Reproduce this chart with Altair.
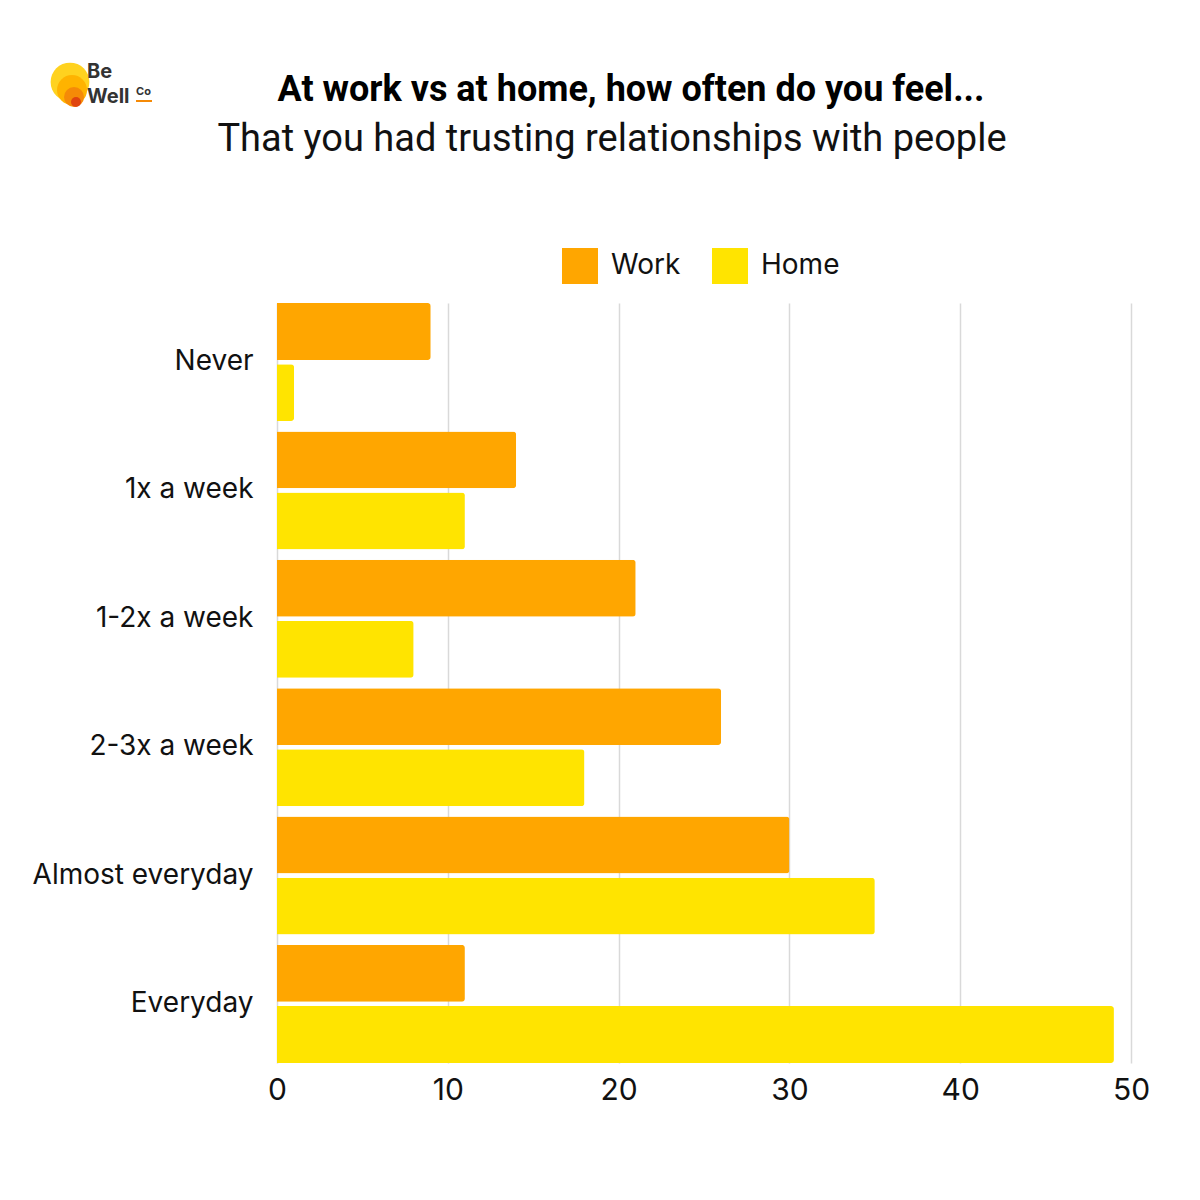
import altair as alt
import pandas as pd

categories = ["Never", "1x a week", "1-2x a week", "2-3x a week", "Almost everyday", "Everyday"]
work = [9, 14, 21, 26, 30, 11]
home = [1, 11, 8, 18, 35, 49]
series = ["Work", "Home"]
colors = ["#FFA600", "#FFE400"]
x_ticks = [0, 10, 20, 30, 40, 50]

rows = []
for c, w, h in zip(categories, work, home):
    rows.append({"category": c, "series": "Work", "value": w})
    rows.append({"category": c, "series": "Home", "value": h})
df = pd.DataFrame(rows)

W, H = 854, 760
LEFT, TOP = 277, 303

bars = alt.Chart(df).mark_bar(cornerRadiusEnd=3).encode(
    y=alt.Y("category:N", sort=categories,
            scale=alt.Scale(paddingInner=0.08, paddingOuter=0),
            axis=alt.Axis(title=None, ticks=False, domain=False, labelFontSize=28,
                          labelFont="Inter", labelColor="#111111", labelPadding=24,
                          labelLimit=300)),
    yOffset=alt.YOffset("series:N", sort=series,
                        scale=alt.Scale(paddingInner=0.068, paddingOuter=0)),
    x=alt.X("value:Q", scale=alt.Scale(domain=[0, 50], nice=False),
            axis=alt.Axis(title=None, values=x_ticks, ticks=False, domain=False,
                          grid=True, gridColor="#d9d9d9", gridWidth=1.5,
                          labelFontSize=30, labelFont="Inter", labelColor="#111111",
                          labelPadding=12, labelFlush=False)),
    color=alt.Color("series:N", sort=series,
                    scale=alt.Scale(domain=series, range=colors),
                    legend=alt.Legend(title=None, orient="none", direction="horizontal",
                                      legendX=285, legendY=-55, symbolType="square",
                                      symbolSize=1296, symbolStrokeWidth=0,
                                      symbolOpacity=1,
                                      labelFontSize=28, labelFont="Inter",
                                      labelColor="#111111", labelOffset=13,
                                      columnPadding=31)),
)

title_df = pd.DataFrame({"t": ["At work vs at home, how often do you feel..."]})
sub_df = pd.DataFrame({"t": ["That you had trusting relationships with people"]})

title = alt.Chart(title_df).mark_text(font="Roboto", fontSize=36, fontWeight="bold",
                                      color="#000000", align="center", baseline="middle").encode(
    text="t:N", x=alt.value(631 - LEFT), y=alt.value(90 - TOP))
subtitle = alt.Chart(sub_df).mark_text(font="Roboto", fontSize=38, fontWeight="normal",
                                       color="#111111", align="center", baseline="middle").encode(
    text="t:N", x=alt.value(612 - LEFT), y=alt.value(140 - TOP))

# logo
def dot(cx, cy, size, col):
    return alt.Chart(pd.DataFrame({"k": [col]})).mark_point(
        filled=True, shape="circle", size=size, color=col, opacity=1).encode(
        x=alt.value(cx - LEFT), y=alt.value(cy - TOP))

c1 = dot(70, 82, 1500, "#FFD21F")
c2 = dot(72, 90, 900, "#FFB300")
c3 = dot(74, 97, 400, "#F58A07")
c4 = dot(76, 102, 100, "#E0440E")

def label(t, x, y, size):
    return alt.Chart(pd.DataFrame({"t": [t]})).mark_text(
        font="Inter", fontSize=size, fontWeight="bold", color="#333333",
        align="left", baseline="middle").encode(
        text="t:N", x=alt.value(x - LEFT), y=alt.value(y - TOP))

be = label("Be", 87, 72, 20)
well = label("Well", 87, 97, 20)
co = label("Co", 136, 92, 11)
co_line = alt.Chart(pd.DataFrame({"k": [1]})).mark_rule(color="#F58A07", strokeWidth=2).encode(
    x=alt.value(136 - LEFT), x2=alt.value(152 - LEFT), y=alt.value(101 - TOP))

chart = alt.layer(bars, title, subtitle, c1, c2, c3, c4, be, well, co, co_line).properties(
    width=W, height=H,
    autosize=alt.AutoSizeParams(type="none"),
    padding={"left": LEFT, "top": TOP, "right": 1200 - LEFT - W, "bottom": 1200 - TOP - H},
    background="white",
).configure_view(stroke=None)

chart.save("out.html", embed_options={"renderer": "svg", "actions": False})
